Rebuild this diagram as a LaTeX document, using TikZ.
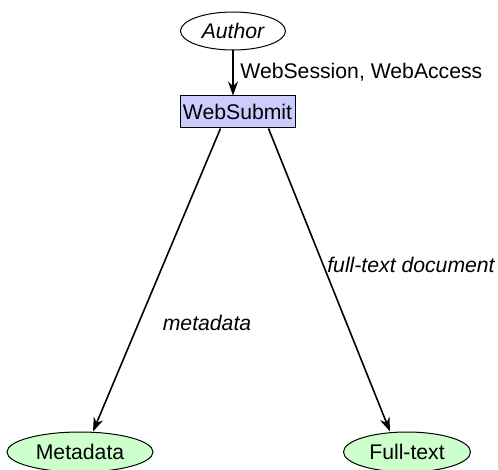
\documentclass[tikz,border=0pt]{standalone}
\usepackage{fontspec}
\setmainfont{Liberation Sans}
\usetikzlibrary{arrows.meta,shapes.geometric}
\definecolor{boxfill}{RGB}{204,204,255}
\definecolor{ellfill}{RGB}{204,255,204}
\begin{document}
\begin{tikzpicture}[x=0.5pt,y=-0.5pt,
  font=\fontsize{10.6pt}{12pt}\selectfont,
  ell/.style={ellipse,draw,line width=0.5pt,inner sep=0pt},
  arr/.style={-{Stealth[length=7pt,width=5pt]},line width=0.8pt},
  lbl/.style={inner sep=0pt}]
\useasboundingbox (0,0) rectangle (498,470);
\node[ell,minimum width=52.5pt,minimum height=19pt] (author) at (233,31) {\itshape Author};
\node[draw,fill=boxfill,line width=0.5pt,minimum width=57.5pt,minimum height=16pt,inner sep=0pt] (ws) at (237.5,112) {WebSubmit};
\node[ell,fill=ellfill,minimum width=73pt,minimum height=20pt] (meta) at (80,452) {Metadata};
\node[ell,fill=ellfill,minimum width=63.5pt,minimum height=20pt] (full) at (407,452) {Full-text};
\draw[arr] (author.south) -- (author.south |- ws.north);
\draw[arr] ([xshift=-8.5pt]ws.south) -- ([xshift=6.5pt]meta.north);
\draw[arr] ([xshift=15.5pt]ws.south) -- ([xshift=-8.5pt]full.north);
\node[lbl,anchor=west] (l1) at (240,72) {WebSession, WebAccess};
\node[lbl] (l2) at (207,323) {\itshape metadata};
\node[lbl] (l3) at (411,265) {\itshape full-text document};
\end{tikzpicture}
\end{document}
